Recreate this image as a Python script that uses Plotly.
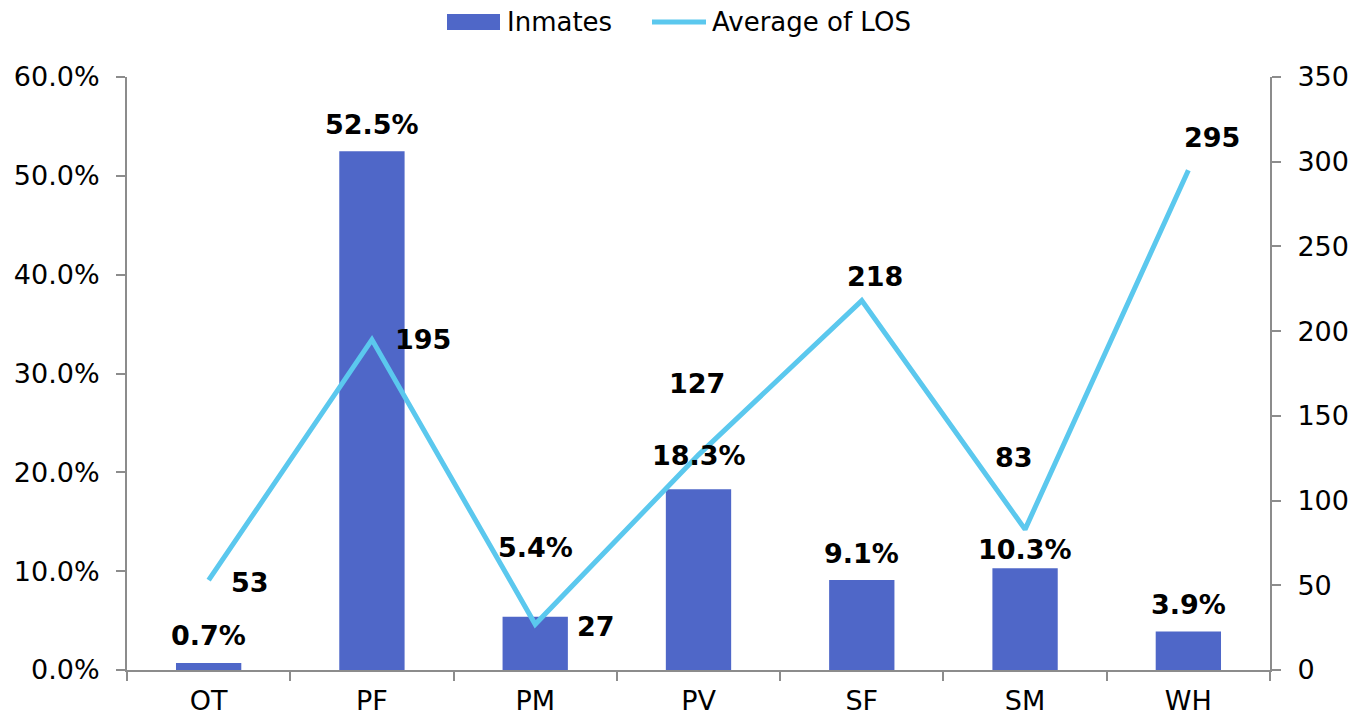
import plotly.graph_objects as go

categories = ["OT", "PF", "PM", "PV", "SF", "SM", "WH"]
inmates_share = [0.007, 0.525, 0.054, 0.183, 0.091, 0.103, 0.039]
avg_los = [53, 195, 27, 127, 218, 83, 295]

# label offsets in pixels (x shift, y shift)
bar_label_shift = [28, 27, 69, 34, 27, 19, 27]
los_label_shift = [(41, -2), (51, 0), (61, -2), (-2, 71), (13, 24), (-11, 72), (24, 33)]

BAR_COLOR = "#4F67C8"
LINE_COLOR = "#5BC8EE"
AXIS_COLOR = "#8C8C8C"
FONT = "DejaVu Sans"

W, H = 1350, 719
ML, MR, MT, MB = 127, 80, 77, 49

fig = go.Figure()
fig.add_trace(go.Bar(
    x=categories, y=inmates_share, name="Inmates",
    marker=dict(color=BAR_COLOR, line=dict(width=0)), width=0.4,
))
fig.add_trace(go.Scatter(
    x=categories, y=avg_los, name="Average of LOS", yaxis="y2",
    mode="lines", line=dict(color=LINE_COLOR, width=5),
))

annotations = []
for c, v, s in zip(categories, inmates_share, bar_label_shift):
    annotations.append(dict(
        x=c, y=v, xref="x", yref="y", text=f"<b>{v*100:.1f}%</b>",
        showarrow=False, yshift=s, font=dict(family=FONT, size=27, color="black"),
    ))
for c, v, (dx, dy) in zip(categories, avg_los, los_label_shift):
    annotations.append(dict(
        x=c, y=v, xref="x", yref="y2", text=f"<b>{v}</b>",
        showarrow=False, xshift=dx, yshift=dy, font=dict(family=FONT, size=27, color="black"),
    ))


# pixel -> paper coordinates for the hand-built legend
def px_x(v):
    return (v - ML) / (W - ML - MR)


def px_y(v):
    return (H - MB - v) / (H - MT - MB)


legend_font = dict(family=FONT, size=26, color="black")
annotations.append(dict(x=px_x(505), y=px_y(22), xref="paper", yref="paper", text="Inmates",
                        showarrow=False, xanchor="left", yanchor="middle", font=legend_font))
annotations.append(dict(x=px_x(710), y=px_y(22), xref="paper", yref="paper", text="Average of LOS",
                        showarrow=False, xanchor="left", yanchor="middle", font=legend_font))

axis_common = dict(
    showgrid=False, zeroline=False, showline=True, linecolor=AXIS_COLOR, linewidth=2,
    ticks="outside", ticklen=9, tickwidth=2, tickcolor=AXIS_COLOR, automargin=False,
    tickfont=dict(family=FONT, size=27, color="black"),
)

fig.update_layout(
    width=W, height=H,
    margin=dict(l=ML, r=MR, t=MT, b=MB),
    plot_bgcolor="white", paper_bgcolor="white",
    font=dict(family=FONT, size=26, color="black"),
    showlegend=False,
    xaxis=dict(**axis_common, tickson="boundaries", ticklabelstandoff=6),
    yaxis=dict(**axis_common, range=[0, 0.6], dtick=0.1, tickformat=".1%", ticklabelstandoff=11),
    yaxis2=dict(**axis_common, range=[0, 350], dtick=50, overlaying="y", side="right",
                ticklabelstandoff=11),
    annotations=annotations,
)

fig.add_shape(type="rect", xref="paper", yref="paper",
              x0=px_x(447), x1=px_x(500), y0=px_y(30), y1=px_y(14),
              fillcolor=BAR_COLOR, line=dict(width=0))
fig.add_shape(type="line", xref="paper", yref="paper",
              x0=px_x(652), x1=px_x(706), y0=px_y(22), y1=px_y(22),
              line=dict(color=LINE_COLOR, width=5))

fig.write_html("out.html")
